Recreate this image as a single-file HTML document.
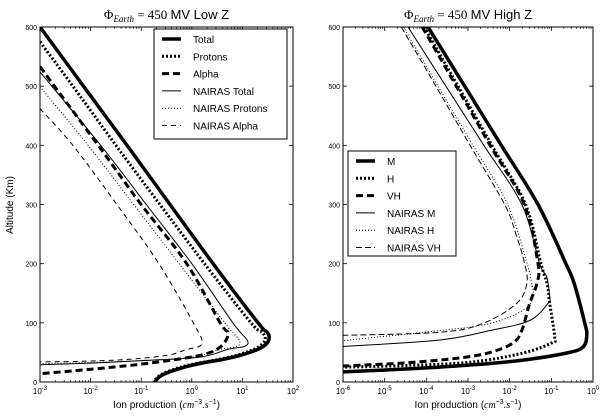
<!DOCTYPE html>
<html><head><meta charset="utf-8"><style>
body{margin:0;background:#fff}
svg{display:block;font-family:"Liberation Sans",sans-serif}
</style></head><body>
<svg id="c" width="600" height="416" viewBox="0 0 600 416"></svg>
<script>
// ---- data (altitude km, log10 ion production) ----
const leftTotalAlt=[600,500,400,300,200,100,85,76,65,55,45,38,32,25,15,8,0];
const leftTotalVal=[-3.0,-2.14,-1.28,-0.43,0.42,1.31,1.48,1.53,1.48,1.3,0.95,0.6,0.2,-0.15,-0.5,-0.65,-0.73];
const leftProtAlt=[575,500,400,300,200,100,85,75,65,55,45,38,32,25,15,8,0];
const leftProtVal=[-3,-2.35,-1.5,-0.63,0.25,1.17,1.38,1.45,1.4,1.22,0.88,0.52,0.13,-0.22,-0.55,-0.68,-0.75];
const leftAlphaAlt=[533,400,300,200,100,82,59,45,32,23,15,14];
const leftAlphaVal=[-3,-1.85,-1.0,-0.1,0.56,0.72,0.56,0.16,-0.83,-1.81,-2.86,-3];
const leftNTotAlt=[524,400,300,200,100,65,55,42,36,32,29];
const leftNTotVal=[-3,-1.8,-0.9,0.0,0.81,1.11,0.7,0.16,-1,-2,-3];
const leftNProtAlt=[499,400,300,200,100,65,55,42,36,33,31];
const leftNProtVal=[-3,-2.05,-1.15,-0.25,0.65,0.95,0.55,0,-1.1,-2,-3];
const leftNAlphaAlt=[462,400,300,200,100,65,55,45,38,35,34];
const leftNAlphaVal=[-3,-2.35,-1.48,-0.65,0.03,0.2,-0.1,-0.5,-1.3,-2.2,-3];

const rightMAlt=[600,500,400,300,200,166,100,79,59,49,37,29,23,17];
const rightMVal=[-3.96,-3.08,-2.2,-1.32,-0.65,-0.45,-0.2,-0.15,-0.24,-0.63,-1.68,-2.88,-4.2,-6];
const rightHAlt=[600,500,400,300,200,166,133,76,66,49,34,28,25];
const rightHVal=[-4.05,-3.24,-2.43,-1.62,-1.25,-1.1,-1.04,-0.92,-0.99,-1.68,-2.88,-4.4,-6];
const rightVHAlt=[600,500,400,300,200,166,133,87,66,50,40,32,27];
const rightVHVal=[-4.1,-3.28,-2.47,-1.65,-1.32,-1.35,-1.52,-1.71,-1.92,-2.47,-3.27,-4.6,-6];
const rightNMAlt=[600,500,400,300,200,177,143,133,104,87,71,60];
const rightNMVal=[-4.44,-3.53,-2.62,-1.71,-1.28,-1.11,-1.04,-1.08,-1.52,-2.47,-3.67,-6];
const rightNHAlt=[600,500,400,300,200,166,143,121,99,87,70];
const rightNHVal=[-4.55,-3.72,-2.88,-2.05,-1.58,-1.47,-1.44,-1.68,-2.47,-3.67,-6];
const rightNVHAlt=[600,500,400,300,250,200,166,133,99,84,79];
const rightNVHVal=[-4.6,-3.77,-2.95,-2.12,-1.85,-1.64,-1.59,-1.83,-2.64,-3.67,-6];

const leftTicks=[-3,-2,-1,0,1,2];
const rightTicks=[-6,-5,-4,-3,-2,-1,0];
const altTicks=[0,100,200,300,400,500,600];

const NS="http://www.w3.org/2000/svg";
const svg=document.getElementById('c');
function mk(t,a,p){const e=document.createElementNS(NS,t);for(const k in a)e.setAttribute(k,a[k]);(p||svg).appendChild(e);return e;}

function smoothPath(pts){
  let d='M'+pts[0][0].toFixed(1)+','+pts[0][1].toFixed(1);
  for(let i=0;i<pts.length-1;i++){
    const p0=pts[i-1]||pts[i],p1=pts[i],p2=pts[i+1],p3=pts[i+2]||p2;
    const c1=[p1[0]+(p2[0]-p0[0])/6,p1[1]+(p2[1]-p0[1])/6];
    const c2=[p2[0]-(p3[0]-p1[0])/6,p2[1]-(p3[1]-p1[1])/6];
    d+='C'+c1[0].toFixed(1)+','+c1[1].toFixed(1)+' '+c2[0].toFixed(1)+','+c2[1].toFixed(1)+' '+p2[0].toFixed(1)+','+p2[1].toFixed(1);
  }
  return d;
}

function panel(cfg){
  const {x0,x1,y0,y1,lmin,lmax}=cfg;
  const g=mk('g',{});
  
  
  const X=v=>x0+(v-lmin)/(lmax-lmin)*(x1-x0);
  const Y=a=>y1-(a/600)*(y1-y0);
  const defs=mk('defs',{},g);
  const cp=mk('clipPath',{id:'clip-'+cfg.name},defs);
  mk('rect',{x:x0,y:y0,width:x1-x0,height:y1-y0},cp);
  const sg=mk('g',{'clip-path':'url(#clip-'+cfg.name+')'},g);
  cfg.series.forEach(s=>{
    const pts=s.alt.map((a,i)=>[X(s.val[i]),Y(a)]);
    const p=mk('path',{d:smoothPath(pts),fill:'none',stroke:'#000','stroke-width':s.w,'stroke-dasharray':s.dash||'none','stroke-linejoin':'round'},sg);
    
    
  });
  const fr=mk('rect',{x:x0,y:y0,width:x1-x0,height:y1-y0,fill:'none',stroke:'#000','stroke-width':1},g);
  
  
  cfg.xticks.forEach((t,i)=>{
    const x=X(t);
    mk('line',{x1:x,y1:y1,x2:x,y2:y1-4,stroke:'#000','stroke-width':0.8},g);
    mk('line',{x1:x,y1:y0,x2:x,y2:y0+4,stroke:'#000','stroke-width':0.8},g);
    if(i<cfg.xticks.length-1){
      for(let m=2;m<10;m++){const xm=X(t+Math.log10(m));
        mk('line',{x1:xm,y1:y1,x2:xm,y2:y1-2,stroke:'#000','stroke-width':0.6},g);
        mk('line',{x1:xm,y1:y0,x2:xm,y2:y0+2,stroke:'#000','stroke-width':0.6},g);}
    }
    const tx=mk('text',{x:x,y:y1+12,'font-size':8,'text-anchor':'middle'},g);
    
    
    tx.textContent='10';
    const sp=mk('tspan',{dy:-4,'font-size':6},tx);sp.textContent=String(t);
  });
  altTicks.forEach(a=>{
    const y=Y(a);
    mk('line',{x1:x0,y1:y,x2:x0+4,y2:y,stroke:'#000','stroke-width':0.8},g);
    mk('line',{x1:x1,y1:y,x2:x1-4,y2:y,stroke:'#000','stroke-width':0.8},g);
    const tx=mk('text',{x:x0-3,y:y+3,'font-size':7,'text-anchor':'end'},g);
    
    
    tx.textContent=String(a);
  });
  const tt=mk('text',{x:(x0+x1)/2,y:y0-8,'font-size':13,'text-anchor':'middle'},g);
  
  
  const a1=mk('tspan',{'font-family':'Liberation Serif'},tt);a1.textContent='Φ';
  const a2=mk('tspan',{'font-family':'Liberation Serif','font-style':'italic','font-size':9,dy:3},tt);a2.textContent='Earth';
  const a3=mk('tspan',{'font-family':'Liberation Serif',dy:-3},tt);a3.textContent=' = 450 ';
  const a4=mk('tspan',{},tt);a4.textContent=cfg.title;
  const xl=mk('text',{x:(x0+x1)/2,y:y1+26,'font-size':10,'text-anchor':'middle'},g);
  
  
  const b1=mk('tspan',{},xl);b1.textContent='Ion production (';
  const b2=mk('tspan',{'font-family':'Liberation Serif','font-style':'italic'},xl);b2.textContent='cm';
  const b3=mk('tspan',{'font-size':7,dy:-4},xl);b3.textContent='−3';
  const b4=mk('tspan',{'font-family':'Liberation Serif','font-style':'italic',dy:4},xl);b4.textContent='.s';
  const b5=mk('tspan',{'font-size':7,dy:-4},xl);b5.textContent='−1';
  const b6=mk('tspan',{dy:4},xl);b6.textContent=')';
  const L=cfg.legend;
  const lg=mk('g',{},g);
  
  
  mk('rect',{x:L.x,y:L.y,width:L.w,height:L.h,fill:'#fff',stroke:'#000','stroke-width':1},lg);
  cfg.series.forEach((s,i)=>{
    const yy=L.y+10+i*17.3;
    const e=mk('g',{},lg);
    
    
    mk('line',{x1:L.x+8,y1:yy,x2:L.x+27,y2:yy,stroke:'#000','stroke-width':s.w,'stroke-dasharray':s.dash||'none'},e);
    const t=mk('text',{x:L.x+39,y:yy+4,'font-size':10},e);t.textContent=s.label;
  });
}

panel({name:'left-panel',x0:40,x1:293,y0:27,y1:382,lmin:-3,lmax:2,xticks:leftTicks,title:'MV Low Z',
 legend:{x:154,y:29,w:133,h:110},
 series:[
  {name:'line-total',label:'Total',alt:leftTotalAlt,val:leftTotalVal,w:3.5},
  {name:'line-protons',label:'Protons',alt:leftProtAlt,val:leftProtVal,w:3,dash:'2 2'},
  {name:'line-alpha',label:'Alpha',alt:leftAlphaAlt,val:leftAlphaVal,w:3,dash:'7 4'},
  {name:'line-nairas-total',label:'NAIRAS Total',alt:leftNTotAlt,val:leftNTotVal,w:1},
  {name:'line-nairas-protons',label:'NAIRAS Protons',alt:leftNProtAlt,val:leftNProtVal,w:1,dash:'1 2'},
  {name:'line-nairas-alpha',label:'NAIRAS Alpha',alt:leftNAlphaAlt,val:leftNAlphaVal,w:1,dash:'5 4'}
 ]});
panel({name:'right-panel',x0:343,x1:593,y0:27,y1:382,lmin:-6,lmax:0,xticks:rightTicks,title:'MV High Z',
 legend:{x:348,y:151,w:108,h:105},
 series:[
  {name:'line-m',label:'M',alt:rightMAlt,val:rightMVal,w:3.5},
  {name:'line-h',label:'H',alt:rightHAlt,val:rightHVal,w:3,dash:'2 2'},
  {name:'line-vh',label:'VH',alt:rightVHAlt,val:rightVHVal,w:3,dash:'7 4'},
  {name:'line-nairas-m',label:'NAIRAS M',alt:rightNMAlt,val:rightNMVal,w:1},
  {name:'line-nairas-h',label:'NAIRAS H',alt:rightNHAlt,val:rightNHVal,w:1,dash:'1 2'},
  {name:'line-nairas-vh',label:'NAIRAS VH',alt:rightNVHAlt,val:rightNVHVal,w:1,dash:'6 3'}
 ]});
const yl=mk('text',{x:13,y:205,'font-size':10,'text-anchor':'middle',transform:'rotate(-90 13 205)'});


yl.textContent='Altitude (Km)';
</script>
</body></html>
